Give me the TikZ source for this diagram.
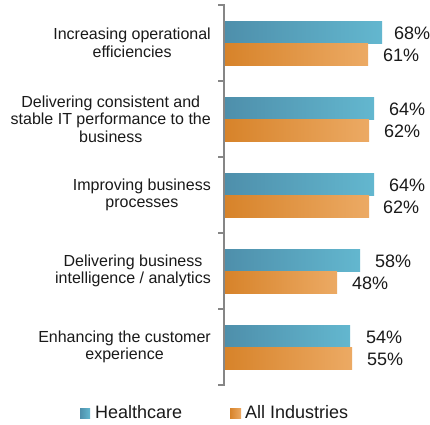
\documentclass[tikz,border=0pt]{standalone}
\usepackage{fontspec}
\setmainfont{Liberation Sans}
\definecolor{hcL}{HTML}{4E8FAB}
\definecolor{hcR}{HTML}{63B7CF}
\definecolor{aiL}{HTML}{D7832A}
\definecolor{aiR}{HTML}{ECAA64}
\definecolor{axisgray}{HTML}{868686}
\definecolor{txt}{HTML}{1A1A1A}
\tikzset{
  hcbar/.style={left color=hcL, right color=hcR, draw=none},
  aibar/.style={left color=aiL, right color=aiR, draw=none},
  catlabel/.style={anchor=east, align=center, inner sep=0pt, text=txt,
    font=\fontsize{16}{17.5}\selectfont},
  vallabel/.style={anchor=base west, inner sep=0pt, text=txt,
    font=\fontsize{18}{20}\selectfont},
  leglabel/.style={anchor=base west, inner sep=0pt, text=txt,
    font=\fontsize{18}{20}\selectfont},
  axisline/.style={draw=axisgray, line width=1.5pt}
}
\begin{document}
\begin{tikzpicture}[x=1pt,y=-1pt]
\useasboundingbox[fill=white] (0,0) rectangle (430,424);
% bars and value labels
\foreach \c/\hb/\ob/\hv/\ov/\hx/\ox [count=\i] in {
  43/382/368/68/61/394/383,
  119/374/369/64/62/389/384,
  195/374/369/64/62/389/383,
  271/360/337/58/48/375/352,
  347/350/352/54/55/366/367}{
  \path[hcbar] (225,\c-21.5) rectangle (\hb,\c);
  \path[aibar] (225,\c) rectangle (\ob,\c+22);
  \node[vallabel] (hv\i) at (\hx,\c-3.5) {\hv\%};
  \node[vallabel] (ov\i) at (\ox,\c+18.5) {\ov\%};
}
% axis
\coordinate (axtop) at (224,5);
\coordinate (axbot) at (224,385);
\draw[axisline] (axtop) -- (axbot);
\foreach \t in {5,81,157,233,309,385}{
  \draw[axisline] (218,\t) -- (224.75,\t);
}
% category labels
\node[catlabel] (c1) at (211,43) {Increasing operational\\efficiencies};
\node[catlabel] (c2) at (211,119) {Delivering consistent and\\stable IT performance to the\\business};
\node[catlabel] (c3) at (211,195) {Improving business\\processes};
\node[catlabel] (c4) at (211,271) {Delivering business\\intelligence / analytics};
\node[catlabel] (c5) at (211,347) {Enhancing the customer\\experience};
% legend
\path[hcbar] (80,408) rectangle (90,418);
\node[leglabel] (lh) at (95,418) {Healthcare};
\path[aibar] (230,408) rectangle (241,418);
\node[leglabel] (la) at (245,418) {All Industries};
\end{tikzpicture}
\end{document}
